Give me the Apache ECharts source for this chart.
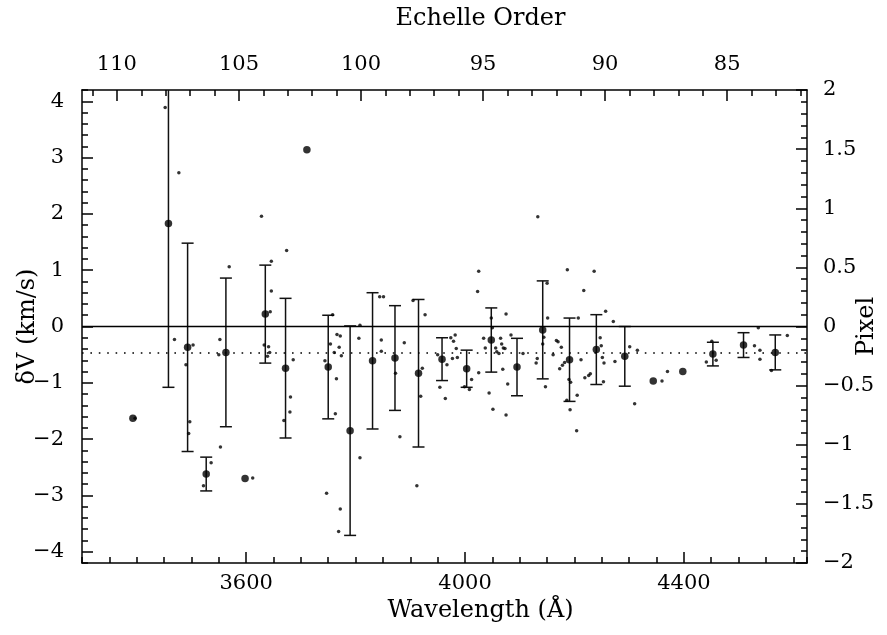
<!DOCTYPE html>
<html><head><meta charset="utf-8">
<script src="https://cdn.jsdelivr.net/npm/echarts@6/dist/echarts.min.js"></script>
<style>html,body{margin:0;padding:0;background:#fff}#c{width:887px;height:635px}</style>
</head><body><div id="c"></div>
<script>
// Binned means (large dots) with error bars (0 = no bar)
const bigWave = [3393, 3458, 3493, 3527, 3563, 3598, 3635, 3672, 3711, 3750, 3790, 3831, 3872, 3915, 3958,
  4003, 4048, 4095, 4142, 4191, 4240, 4292, 4344, 4398, 4453, 4509, 4567];
const bigVel = [-1.63, 1.83, -0.37, -2.62, -0.46, -2.70, 0.22, -0.74, 3.14, -0.72, -1.85, -0.61, -0.56, -0.83, -0.58,
  -0.75, -0.24, -0.72, -0.06, -0.59, -0.41, -0.53, -0.97, -0.80, -0.49, -0.33, -0.46];
const bigErr = [0, 2.91, 1.85, 0.30, 1.32, 0, 0.87, 1.24, 0, 0.92, 1.86, 1.21, 0.93, 1.31, 0.38,
  0.33, 0.57, 0.51, 0.87, 0.74, 0.62, 0.53, 0, 0, 0.21, 0.22, 0.31];
// Individual lines (small dots)
const smallWave = [3397, 3452, 3477, 3469, 3503, 3490, 3497, 3495, 3569, 3552, 3550, 3553, 3536, 3522, 3612,
  3628, 3646, 3646, 3644, 3633, 3641, 3643, 3639,
  3674, 3686, 3681, 3680, 3669, 3758, 3766, 3772, 3754, 3770, 3761, 3774, 3744, 3765, 3763, 3747, 3772, 3769,
  3808, 3806, 3808, 3844, 3851, 3847, 3847, 3889, 3873, 3881, 3905, 3927, 3922, 3919, 3912,
  3974, 3979, 3950, 3967, 3977, 3954, 3964,
  3982, 3984, 3986, 4012, 3999, 4008, 4025, 4023, 4025, 4048, 4050, 4034, 4037, 4044, 4051,
  4075, 4065, 4067, 4056, 4058, 4062, 4070, 4073, 4069, 4078, 4075, 4084, 4106,
  4133, 4150, 4151, 4144, 4142, 4132, 4130, 4147, 4161, 4167, 4170, 4176, 4187, 4182, 4178, 4173,
  4190, 4193, 4186, 4192, 4204, 4205, 4207, 4217, 4212, 4219, 4226, 4229, 4236,
  4257, 4247, 4249, 4251, 4254, 4253, 4271, 4274, 4301, 4315, 4310,
  4360, 4370, 4451, 4441, 4459, 4536, 4529, 4539, 4539, 4560, 4589];
const smallVel = [-1.63, 3.89, 2.73, -0.23, -0.33, -0.68, -1.69, -1.90, 1.06, -0.23, -0.50, -2.14, -2.42, -2.83, -2.69,
  1.96, 1.16, 0.63, 0.26, -0.33, -0.36, -0.46, -0.53,
  1.35, -0.59, -1.25, -1.52, -1.67, 0.21, -0.14, -0.17, -0.31, -0.37, -0.46, -0.52, -0.61, -0.93, -1.55, -2.96, -3.24, -3.64,
  0.02, -0.21, -2.33, 0.53, 0.53, -0.24, -0.44, -0.29, -0.83, -1.96, 0.46, 0.21, -0.74, -1.24, -2.83,
  -0.20, -0.26, -0.50, -0.68, -0.57, -1.08, -1.28,
  -0.15, -0.39, -0.55, -0.94, -1.07, -1.12, 0.98, 0.62, -0.82, 0.15, -0.02, -0.21, -0.38, -1.18, -1.47,
  0.22, -0.21, -0.31, -0.38, -0.45, -0.48, -0.38, -0.39, -0.76, -1.02, -1.57, -0.15, -0.48,
  1.95, 0.77, 0.15, -0.19, -0.31, -0.57, -0.65, -1.07, -0.50, -0.25, -0.27, -0.37, 1.01, -0.64, -0.69, -0.75,
  -0.94, -0.99, -1.31, -1.48, -1.85, -1.22, 0.15, 0.64, -0.59, -0.91, -0.87, -0.84, 0.98,
  0.27, -0.20, -0.34, -0.55, -0.65, -0.98, 0.09, -0.62, -0.36, -0.42, -1.37,
  -0.97, -0.80, -0.26, -0.63, -0.60, -0.02, -0.34, -0.42, -0.58, -0.78, -0.16];
const meanOffset = -0.47;
const waveTicks = [3600, 4000, 4400];
const orderTicks = [85, 90, 95, 100, 105, 110];
const orderMinorTicks = [82, 83, 84, 86, 87, 88, 89, 91, 92, 93, 94, 96, 97, 98, 99, 101, 102, 103, 104, 106, 107, 108, 109, 111];
const velTicks = [-4, -3, -2, -1, 0, 1, 2, 3, 4];

const FONT = '"DejaVu Serif", "Liberation Serif", serif';
const AX = '#000';
const fmt = v => (v < 0 ? '\u2212' + Math.abs(v) : String(v));
const lblStyle = {color: '#000', fontFamily: FONT, fontSize: 21};
const nameStyle = {color: '#000', fontFamily: FONT, fontSize: 24};
const lineSt = {color: AX, width: 1.5};
const axLine = {show: true, onZero: false, lineStyle: lineSt};
const noLine = {show: false, onZero: false};

const chart = echarts.init(document.getElementById('c'), null, {renderer: 'canvas'});
chart.setOption({
  animation: false,
  backgroundColor: '#fff',
  grid: {left: 82, right: 80, top: 90, bottom: 72, containLabel: false, outerBoundsMode: 'none'},
  xAxis: [
    {type: 'value', position: 'bottom', min: 3300, max: 4625,
      axisLine: axLine,
      axisTick: {show: true, inside: true, length: 11, lineStyle: lineSt, customValues: waveTicks},
      axisLabel: {show: true, margin: 10, customValues: waveTicks, formatter: v => String(v), ...lblStyle},
      splitLine: {show: false},
      name: 'Wavelength (\u00C5)', nameLocation: 'middle', nameGap: 36, nameMoveOverlap: false,
      nameTextStyle: {...nameStyle, padding: [0, 0, 0, 72]}},
    {type: 'value', position: 'bottom', min: 3300, max: 4625, interval: 50,
      axisLine: noLine, axisTick: {show: true, inside: true, length: 6, lineStyle: lineSt},
      axisLabel: {show: false}, splitLine: {show: false}},
    {type: 'value', position: 'top', min: 81.73, max: 111.43, inverse: true,
      axisLine: axLine,
      axisTick: {show: true, inside: true, length: 11, lineStyle: lineSt, customValues: orderTicks},
      axisLabel: {show: true, margin: 15, customValues: orderTicks, ...lblStyle},
      splitLine: {show: false},
      name: 'Echelle Order', nameLocation: 'middle', nameGap: 59, nameMoveOverlap: false,
      nameTextStyle: {...nameStyle, padding: [0, 0, 0, 72]}},
    {type: 'value', position: 'top', min: 81.73, max: 111.43, inverse: true,
      axisLine: noLine,
      axisTick: {show: true, inside: true, length: 6, lineStyle: lineSt, customValues: orderMinorTicks},
      axisLabel: {show: false}, splitLine: {show: false}}
  ],
  yAxis: [
    {type: 'value', position: 'left', min: -4.2, max: 4.2,
      axisLine: axLine,
      axisTick: {show: true, inside: true, length: 11, lineStyle: lineSt, customValues: velTicks},
      axisLabel: {show: true, margin: 18, customValues: velTicks, formatter: fmt, ...lblStyle},
      splitLine: {show: false},
      name: '\u03B4V (km/s)', nameLocation: 'middle', nameGap: 42, nameRotate: 90, nameMoveOverlap: false,
      nameTextStyle: nameStyle},
    {type: 'value', position: 'left', min: -4.2, max: 4.2, interval: 0.2,
      axisLine: noLine, axisTick: {show: true, inside: true, length: 6, lineStyle: lineSt},
      axisLabel: {show: false}, splitLine: {show: false}},
    {type: 'value', position: 'right', min: -2, max: 2, interval: 0.5,
      axisLine: axLine,
      axisTick: {show: true, inside: true, length: 11, lineStyle: lineSt},
      minorTick: {show: true, splitNumber: 5, length: 6, lineStyle: lineSt},
      axisLabel: {show: true, margin: 16, formatter: fmt, ...lblStyle},
      splitLine: {show: false},
      name: 'Pixel', nameLocation: 'middle', nameGap: 48, nameRotate: 90, nameMoveOverlap: false,
      nameTextStyle: nameStyle}
  ],
  series: [
    {type: 'scatter', xAxisIndex: 0, yAxisIndex: 0, symbol: 'circle', symbolSize: 3.5,
      itemStyle: {color: '#000'}, silent: true,
      data: smallWave.map((w, i) => [w, smallVel[i]]),
      markLine: {silent: true, symbol: 'none', label: {show: false},
        data: [
          {yAxis: 0, lineStyle: {color: '#000', width: 1.4, type: 'solid'}},
          {yAxis: meanOffset, lineStyle: {color: '#000', width: 1.6, type: [1.6, 6.8]}}
        ]}},
    {type: 'custom', xAxisIndex: 0, yAxisIndex: 0, clip: true, silent: true,
      data: bigWave.map((w, i) => [w, bigVel[i], bigErr[i]]).filter(d => d[2] > 0),
      renderItem: function (params, api) {
        const x = api.value(0), v = api.value(1), e = api.value(2);
        const t = api.coord([x, v + e]);
        const b = api.coord([x, v - e]);
        const hw = 6;
        const st = {stroke: '#111', lineWidth: 1.5};
        return {type: 'group', children: [
          {type: 'line', shape: {x1: t[0], y1: t[1], x2: b[0], y2: b[1]}, style: st},
          {type: 'line', shape: {x1: t[0] - hw, y1: t[1], x2: t[0] + hw, y2: t[1]}, style: st},
          {type: 'line', shape: {x1: b[0] - hw, y1: b[1], x2: b[0] + hw, y2: b[1]}, style: st}
        ]};
      }},
    {type: 'scatter', xAxisIndex: 0, yAxisIndex: 0, symbol: 'circle', symbolSize: 7.5,
      itemStyle: {color: '#000'}, silent: true,
      data: bigWave.map((w, i) => [w, bigVel[i]])}
  ]
});
</script></body></html>
